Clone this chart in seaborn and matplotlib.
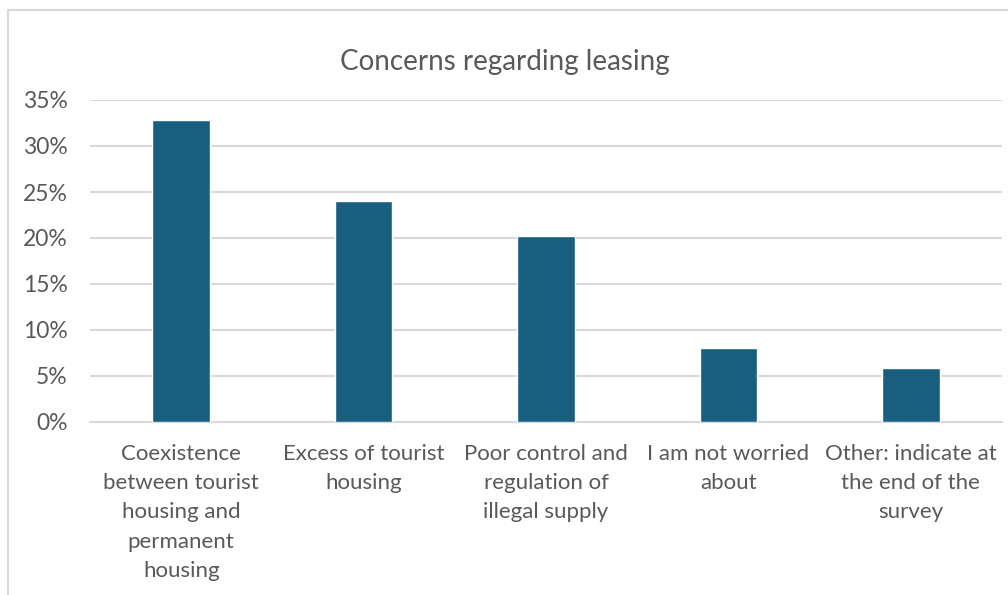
import matplotlib
matplotlib.use("Agg")
import matplotlib.pyplot as plt
from matplotlib.lines import Line2D
from matplotlib.ticker import MultipleLocator, PercentFormatter
import seaborn as sns
import pandas as pd

categories = [
    "Coexistence between tourist housing and permanent housing",
    "Excess of tourist housing",
    "Poor control and regulation of illegal supply",
    "I am not worried about",
    "Other: indicate at the end of the survey",
]
tick_labels = [
    "Coexistence\nbetween tourist\nhousing and\npermanent\nhousing",
    "Excess of tourist\nhousing",
    "Poor control and\nregulation of\nillegal supply",
    "I am not worried\nabout",
    "Other: indicate at\nthe end of the\nsurvey",
]
shares = [32.8, 24.0, 20.2, 8.0, 5.9]
title = "Concerns regarding leasing"

bar_color = "#175E7F"
text_color = "#595959"
grid_color = "#D9D9D9"

sns.set_theme(style="white")
plt.rcParams["font.family"] = ["Lato", "DejaVu Sans"]

W, H = 1008, 595
fig = plt.figure(figsize=(W / 100, H / 100), dpi=100)
ax = fig.add_axes([90 / W, 1 - 422 / H, (1002 - 90) / W, (422 - 100) / H])

df = pd.DataFrame({"category": categories, "share": shares})
sns.barplot(data=df, x="category", y="share", color=bar_color, width=0.315,
            saturation=1, ax=ax, zorder=3)

ax.set_ylim(0, 35)
ax.yaxis.set_major_locator(MultipleLocator(5))
ax.yaxis.set_major_formatter(PercentFormatter(decimals=0))
ax.grid(axis="y", color=grid_color, linewidth=1.5, zorder=0)
ax.set_axisbelow(True)
for s in ["top", "right", "left"]:
    ax.spines[s].set_visible(False)
ax.spines["bottom"].set_color(grid_color)
ax.spines["bottom"].set_linewidth(1.5)

ax.set_xticks(range(len(tick_labels)))
ax.set_xticklabels(tick_labels, fontsize=16, color=text_color, linespacing=1.57, va="top")
ax.tick_params(axis="x", length=0, pad=16)
ax.tick_params(axis="y", length=0, pad=16, labelsize=16.5, labelcolor=text_color)
ax.set_xlabel("")
ax.set_ylabel("")

fig.text(505 / W, 1 - 62 / H, title, ha="center", va="center", fontsize=20, color=text_color)

# chart frame on the left and top edges
fig.add_artist(Line2D([8 / W, 8 / W], [0, 1 - 10 / H], color=grid_color, linewidth=1.5))
fig.add_artist(Line2D([8 / W, 1], [1 - 10 / H, 1 - 10 / H], color=grid_color, linewidth=1.5))

fig.savefig("out.png", dpi=100)
